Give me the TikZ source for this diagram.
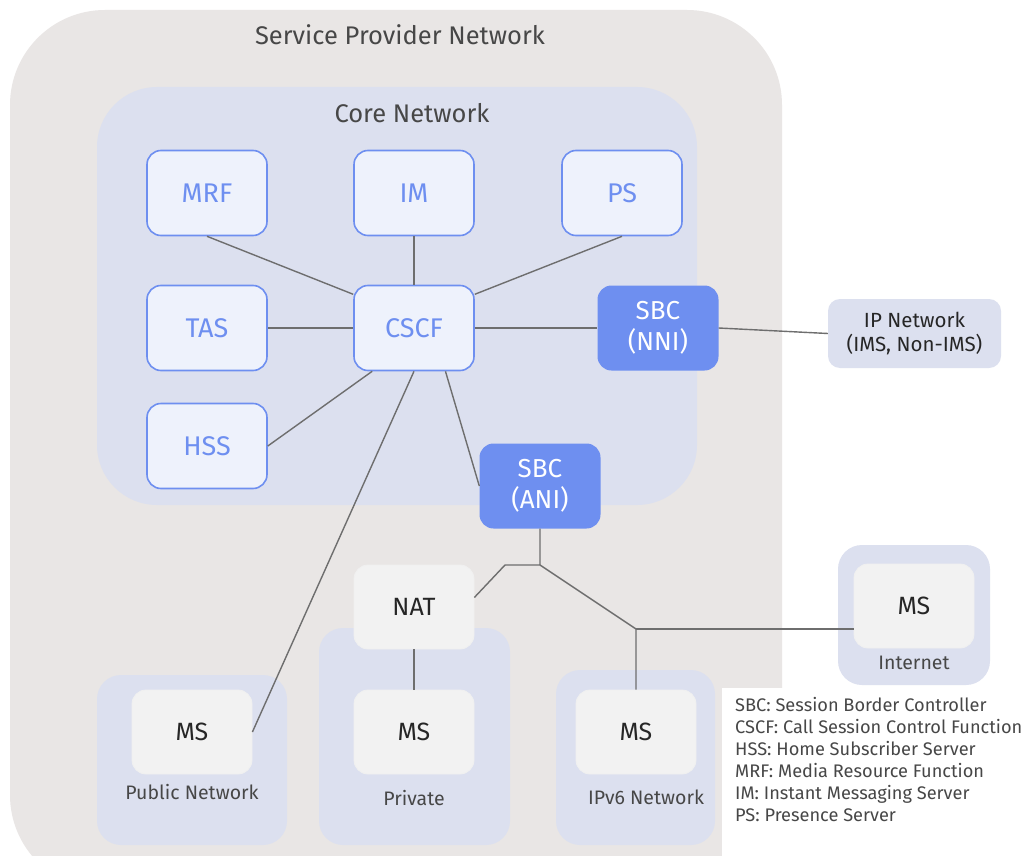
\documentclass[tikz,border=0pt]{standalone}
\usepackage{fontspec}
\setmainfont{Fira Sans}
\definecolor{outerbg}{HTML}{E9E6E5}
\definecolor{corebg}{HTML}{DCE0EF}
\definecolor{bluebd}{HTML}{6E8FF0}
\definecolor{bluefill}{HTML}{EEF2FC}
\definecolor{graynode}{HTML}{F2F2F2}
\definecolor{linec}{HTML}{6E6E6E}
\definecolor{titletext}{HTML}{474747}
\tikzset{
  corebox/.style={draw=bluebd, line width=1.6pt, fill=bluefill, rounded corners=14pt,
    minimum width=120pt, minimum height=85pt, inner sep=0pt, text=bluebd,
    font=\fontsize{27}{31}\selectfont},
  sbcbox/.style={fill=bluebd, rounded corners=14pt, minimum width=121pt, minimum height=85pt,
    inner sep=0pt, text=white, align=center, font=\fontsize{26}{31}\selectfont},
  msbox/.style={fill=graynode, draw=black!6, line width=0.8pt, rounded corners=14pt,
    minimum width=120pt, minimum height=84pt, inner sep=0pt, text=black!85,
    font=\fontsize{25}{29}\selectfont},
  groupbox/.style={fill=corebg, rounded corners=24pt, inner sep=0pt},
  grouplabel/.style={text=titletext, font=\fontsize{19.5}{23}\selectfont, inner sep=0pt},
  titlelabel/.style={text=titletext, font=\fontsize{25.5}{29}\selectfont, inner sep=0pt},
  link/.style={draw=linec, line width=1.4pt},
}
\begin{document}
\begin{tikzpicture}[x=1pt, y=-1pt]
\useasboundingbox (0,0) rectangle (1030,856);
\clip (0,0) rectangle (1030,856);
\fill[white] (0,0) rectangle (1030,856);
% outer service provider area
\node[fill=outerbg, rounded corners=95pt, minimum width=772pt, minimum height=880pt, inner sep=0pt] (spn) at (396,450) {};
\node[titlelabel] (spntitle) at (400,35) {Service Provider Network};
% core network
\node[fill=corebg, rounded corners=60pt, minimum width=600pt, minimum height=418pt, inner sep=0pt] (core) at (397,296) {};
\node[titlelabel] (coretitle) at (412,113) {Core Network};
% legend background
\node[fill=white, minimum width=308pt, minimum height=168pt, inner sep=0pt] (legbg) at (876,772) {};
% groups
\node[groupbox, minimum width=190pt, minimum height=170pt] (gpub) at (192,760) {};
\node[groupbox, minimum width=191pt, minimum height=217pt] (gpriv) at (414.5,736.5) {};
\node[groupbox, minimum width=159pt, minimum height=175pt] (gv6) at (635.5,757.5) {};
\node[groupbox, minimum width=152pt, minimum height=140pt] (ginet) at (914,615) {};
\node[grouplabel] (lpub) at (192,792) {Public Network};
\node[grouplabel] (lpriv) at (414,798) {Private};
\node[grouplabel] (lv6) at (646,797) {IPv6 Network};
\node[grouplabel] (linet) at (914,663) {Internet};
% core nodes
\node[corebox] (mrf) at (207,193) {MRF};
\node[corebox] (im) at (414,193) {IM};
\node[corebox] (ps) at (622,193) {PS};
\node[corebox] (tas) at (207,328) {TAS};
\node[corebox] (cscf) at (414,328) {CSCF};
\node[corebox] (hss) at (207,446) {HSS};
\node[sbcbox] (sbcnni) at (658,328) {SBC\\(NNI)};
\node[sbcbox] (sbcani) at (540,486) {SBC\\(ANI)};
\node[fill=corebg, rounded corners=12pt, minimum width=173pt, minimum height=69pt, inner sep=0pt,
  align=center, text=black!85, font=\fontsize{20.5}{24}\selectfont] (ipnet) at (914.5,333.5) {IP Network\\(IMS, Non-IMS)};
% gray nodes
\node[msbox] (nat) at (414,607) {NAT};
\node[msbox] (mspub) at (192,732) {MS};
\node[msbox] (mspriv) at (414,732) {MS};
\node[msbox] (msv6) at (636,732) {MS};
\node[msbox] (msinet) at (914,606) {MS};
% links
\draw[link] (mrf.south) -- (cscf.151);
\draw[link] (im.south) -- (cscf.north);
\draw[link] (ps.south) -- (cscf.29);
\draw[link] (tas.east) -- (cscf.west);
\draw[link] (hss.east) -- (cscf.226);
\draw[link] (cscf.east) -- (sbcnni.west);
\draw[link] (sbcnni.east) -- (ipnet.west);
\draw[link] (cscf.306) -- (sbcani.west);
\draw[link] (cscf.south) -- (mspub.east);
\coordinate (j1) at (540,565);
\coordinate (j0) at (505,565);
\coordinate (j2) at (636,629);
\draw[link] (sbcani.south) -- (j1) -- (j0) -- (nat.9);
\draw[link] (j1) -- (j2) -- (msv6.north);
\draw[link] (j2) -- (j2 -| msinet.west);
\draw[link] (nat.south) -- (mspriv.north);
% legend
\node[anchor=north west, align=left, text=titletext, inner sep=0pt,
  font=\fontsize{18.2}{22}\selectfont] (legend) at (735,697) {SBC: Session Border Controller\\
CSCF: Call Session Control Function\\
HSS: Home Subscriber Server\\
MRF: Media Resource Function\\
IM: Instant Messaging Server\\
PS: Presence Server};
\end{tikzpicture}
\end{document}
